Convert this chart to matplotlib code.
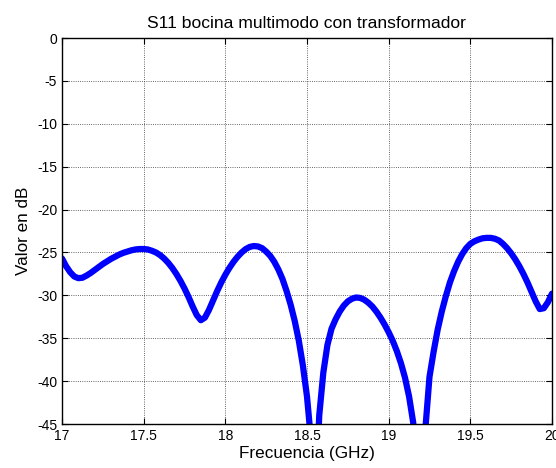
import numpy as np
import matplotlib
matplotlib.use('Agg')
import matplotlib.pyplot as plt

plt.rcParams['font.family'] = ['Liberation Sans', 'DejaVu Sans']
plt.rcParams['axes.unicode_minus'] = False

freq = [17.000, 17.025, 17.050, 17.075, 17.100, 17.125, 17.150, 17.175, 17.200, 17.225,
        17.250, 17.275, 17.300, 17.325, 17.350, 17.375, 17.400, 17.425, 17.450, 17.475,
        17.500, 17.525, 17.550, 17.575, 17.600, 17.625, 17.650, 17.675, 17.700, 17.725,
        17.750, 17.775, 17.800, 17.825, 17.850, 17.875, 17.900, 17.925, 17.950, 17.975,
        18.000, 18.025, 18.050, 18.075, 18.100, 18.125, 18.150, 18.175, 18.200, 18.225,
        18.250, 18.275, 18.300, 18.325, 18.350, 18.375, 18.400, 18.425, 18.450, 18.475,
        18.500, 18.525, 18.550, 18.575, 18.600, 18.625, 18.650, 18.675, 18.700, 18.725,
        18.750, 18.775, 18.800, 18.825, 18.850, 18.875, 18.900, 18.925, 18.950, 18.975,
        19.000, 19.025, 19.050, 19.075, 19.100, 19.125, 19.150, 19.175, 19.200, 19.225,
        19.250, 19.275, 19.300, 19.325, 19.350, 19.375, 19.400, 19.425, 19.450, 19.475,
        19.500, 19.525, 19.550, 19.575, 19.600, 19.625, 19.650, 19.675, 19.700, 19.725,
        19.750, 19.775, 19.800, 19.825, 19.850, 19.875, 19.900, 19.925, 19.950, 19.975,
        20.000]
s11 = [-25.7, -26.6, -27.3, -27.8, -28.0, -27.95, -27.7, -27.4, -27.05, -26.7,
       -26.35, -26.05, -25.75, -25.5, -25.25, -25.05, -24.9, -24.75, -24.65, -24.6,
       -24.6, -24.65, -24.8, -25.0, -25.3, -25.7, -26.2, -26.8, -27.5, -28.3,
       -29.2, -30.2, -31.3, -32.3, -32.9, -32.6, -31.7, -30.6, -29.5, -28.5,
       -27.6, -26.8, -26.1, -25.5, -25.0, -24.6, -24.35, -24.25, -24.3, -24.5,
       -24.9, -25.4, -26.1, -27.0, -28.1, -29.5, -31.1, -33.0, -35.3, -38.2,
       -41.8, -47.0, -55.0, -44.0, -39.0, -35.8, -33.9, -32.8, -31.9, -31.2,
       -30.7, -30.4, -30.25, -30.3, -30.5, -30.85, -31.3, -31.9, -32.6, -33.4,
       -34.3, -35.3, -36.5, -37.9, -39.6, -41.8, -44.8, -50.0, -56.0, -45.5,
       -39.5, -36.6, -34.0, -31.9, -30.1, -28.5, -27.2, -26.1, -25.2, -24.5,
       -24.0, -23.7, -23.5, -23.35, -23.3, -23.3, -23.4, -23.6, -24.0, -24.5,
       -25.1, -25.8, -26.6, -27.5, -28.5, -29.6, -30.7, -31.6, -31.5, -30.8,
       -29.8]

fig = plt.figure(figsize=(5.56, 4.68), dpi=100)
ax = fig.add_axes([0.1115, 0.094, 0.8813, 0.8248])
ax.plot(freq, s11, color='#0000ff', linewidth=4.5,
        solid_joinstyle='round', solid_capstyle='round')

ax.set_xlim(17, 20)
ax.set_ylim(-45, 0)
ax.set_xticks([17, 17.5, 18, 18.5, 19, 19.5, 20])
ax.set_xticklabels(['17', '17.5', '18', '18.5', '19', '19.5', '20'])
ax.set_yticks(np.arange(-45, 1, 5))
ax.grid(True, color='#333333', linestyle=':', linewidth=0.6)
ax.tick_params(direction='in', top=True, right=True, labelsize=10, length=4)
for sp in ax.spines.values():
    sp.set_linewidth(1)

ax.set_title('S11 bocina multimodo con transformador', fontsize=12.6, pad=7)
ax.set_xlabel('Frecuencia (GHz)', fontsize=12.3, labelpad=2)
ax.set_ylabel('Valor en dB', fontsize=12.3, labelpad=4)

fig.savefig('out.png', dpi=100)
